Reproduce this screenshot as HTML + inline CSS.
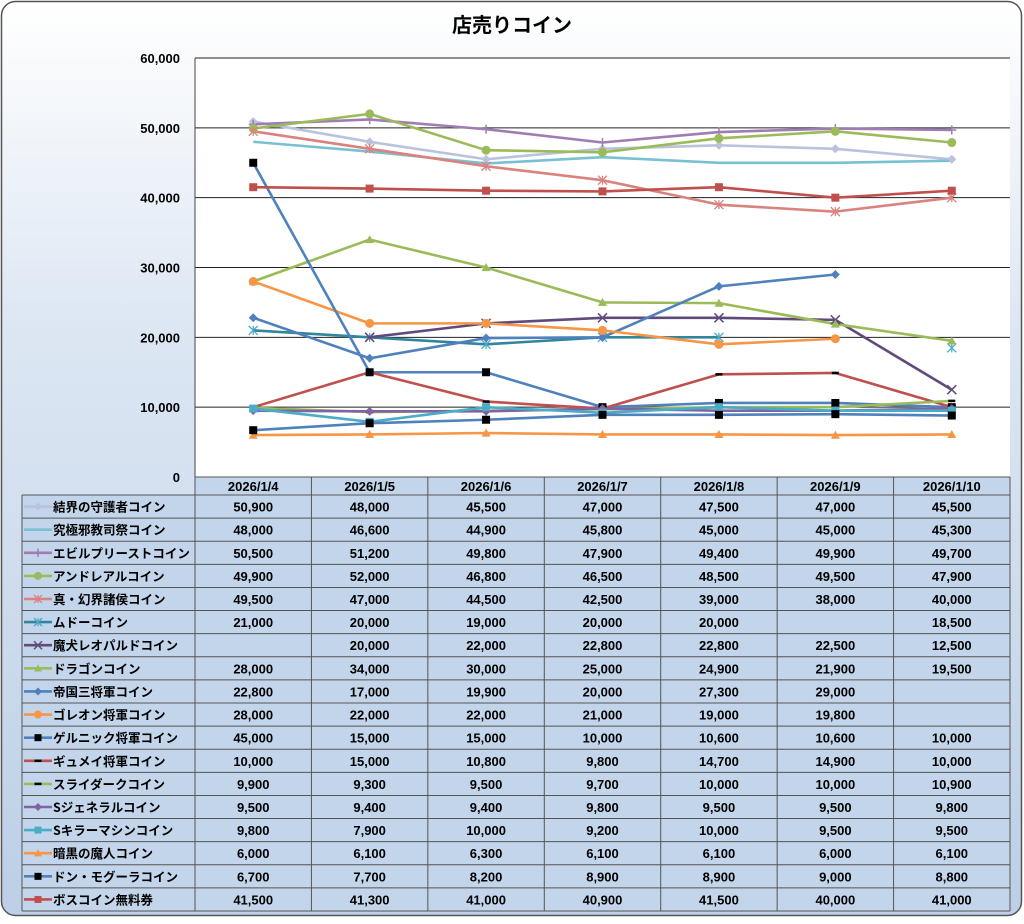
<!DOCTYPE html><html><head><meta charset="utf-8"><style>
body{margin:0;width:1024px;height:919px;overflow:hidden;background:#fff;font-family:"Liberation Sans","Noto Sans CJK JP",sans-serif}
</style></head><body>
<svg id="s" width="1024" height="919" xmlns="http://www.w3.org/2000/svg" font-family="Liberation Sans, Noto Sans CJK JP, sans-serif">
<defs><linearGradient id="bg" x1="0" y1="0" x2="0" y2="1"><stop offset="0" stop-color="#ffffff"/><stop offset="0.35" stop-color="#dde7f3"/><stop offset="1" stop-color="#bccfe6"/></linearGradient></defs>
<rect x="1.5" y="1.5" width="1020" height="914" rx="14" fill="url(#bg)" stroke="#555" stroke-width="1.5"/>
<text x="512" y="32" text-anchor="middle" font-size="20" font-weight="bold" font-family="Noto Sans CJK JP, sans-serif">店売りコイン</text>
<rect x="195" y="58" width="815" height="419" fill="#fff"/>
<g id="g"></g>
</svg>
<script>
const g=document.getElementById('g');let h='';
const X0=195,CW=815/7,Y=v=>477-v*0.006983,cx=i=>X0+CW*(i+0.5);
for(let k=0;k<=6;k++){const y=Y(k*10000);if(k>0)h+=`<line x1="195" y1="${y}" x2="1010" y2="${y}" stroke="#222" stroke-width="1"/>`;
h+=`<text x="180" y="${y+5}" text-anchor="end" font-size="13" font-weight="bold">${(k*10000).toLocaleString('en-US')}</text>`;}
h+=`<line x1="195" y1="58" x2="195" y2="477" stroke="#444"/>`;
const dates=['2026/1/4','2026/1/5','2026/1/6','2026/1/7','2026/1/8','2026/1/9','2026/1/10'];
const S=[
['結界の守護者コイン','#b9c3dd','dia','#b9c3dd',[50900,48000,45500,47000,47500,47000,45500]],
['究極邪教司祭コイン','#7ac0d3','none','',[48000,46600,44900,45800,45000,45000,45300]],
['エビルプリーストコイン','#a07cb4','plus','#a07cb4',[50500,51200,49800,47900,49400,49900,49700]],
['アンドレアルコイン','#9bbb59','circ','#9bbb59',[49900,52000,46800,46500,48500,49500,47900]],
['真・幻界諸侯コイン','#d9827e','ast','#d9827e',[49500,47000,44500,42500,39000,38000,40000]],
['ムドーコイン','#31859c','ast','#4bacc6',[21000,20000,19000,20000,20000,null,18500]],
['魔犬レオパルドコイン','#604a7b','x','#604a7b',[null,20000,22000,22800,22800,22500,12500]],
['ドラゴンコイン','#9bbb59','tri','#9bbb59',[28000,34000,30000,25000,24900,21900,19500]],
['帝国三将軍コイン','#4f81bd','dia','#4f81bd',[22800,17000,19900,20000,27300,29000,null]],
['ゴレオン将軍コイン','#f79646','circ','#f79646',[28000,22000,22000,21000,19000,19800,null]],
['ゲルニック将軍コイン','#4f81bd','sq','#000',[45000,15000,15000,10000,10600,10600,10000]],
['ギュメイ将軍コイン','#c0504d','dash','#000',[10000,15000,10800,9800,14700,14900,10000]],
['スライダークコイン','#9bbb59','dash','#000',[9900,9300,9500,9700,10000,10000,10900]],
['Sジェネラルコイン','#8064a2','dia','#8064a2',[9500,9400,9400,9800,9500,9500,9800]],
['Sキラーマシンコイン','#4bacc6','sq','#4bacc6',[9800,7900,10000,9200,10000,9500,9500]],
['暗黒の魔人コイン','#f79646','tri','#f79646',[6000,6100,6300,6100,6100,6000,6100]],
['ドン・モグーラコイン','#4f81bd','sq','#000',[6700,7700,8200,8900,8900,9000,8800]],
['ボスコイン無料券','#c0504d','sq','#c0504d',[41500,41300,41000,40900,41500,40000,41000]]];
function mk(t,x,y,c,r){r=r||4.5;
if(t=='dia')return `<path d="M${x} ${y-r}L${x+r} ${y}L${x} ${y+r}L${x-r} ${y}Z" fill="${c}"/>`;
if(t=='circ')return `<circle cx="${x}" cy="${y}" r="${r}" fill="${c}"/>`;
if(t=='sq')return `<rect x="${x-r+0.5}" y="${y-r+0.5}" width="${2*r-1}" height="${2*r-1}" fill="${c}"/>`;
if(t=='tri')return `<path d="M${x} ${y-r}L${x+r} ${y+r*0.8}L${x-r} ${y+r*0.8}Z" fill="${c}"/>`;
if(t=='plus')return `<path d="M${x-r} ${y}H${x+r}M${x} ${y-r}V${y+r}" stroke="${c}" stroke-width="1.5"/>`;
if(t=='x')return `<path d="M${x-r} ${y-r}L${x+r} ${y+r}M${x-r} ${y+r}L${x+r} ${y-r}" stroke="${c}" stroke-width="1.5"/>`;
if(t=='ast')return `<path d="M${x-r} ${y-r}L${x+r} ${y+r}M${x-r} ${y+r}L${x+r} ${y-r}M${x} ${y-r}V${y+r}" stroke="${c}" stroke-width="1.3"/>`;
if(t=='dash')return `<path d="M${x-3.5} ${y}H${x+3.5}" stroke="${c}" stroke-width="2.5"/>`;
return '';}
S.forEach(s=>{let d='',pen=false;s[4].forEach((v,i)=>{if(v==null){pen=false;return}d+=(pen?'L':'M')+cx(i)+' '+Y(v);pen=true});
h+=`<path d="${d}" fill="none" stroke="${s[1]}" stroke-width="2.6" stroke-linejoin="round"/>`;});
S.forEach(s=>{s[4].forEach((v,i)=>{if(v!=null)h+=mk(s[2],cx(i),Y(v),s[3])})});
// table
const T0=477,HR=18,RH=(911-495)/18;
h+=`<rect x="195" y="477" width="815" height="434" fill="#c3d5ea"/><rect x="22" y="495" width="173" height="416" fill="#c3d5ea"/>`;
dates.forEach((d,i)=>h+=`<text x="${cx(i)}" y="${T0+14}" text-anchor="middle" font-size="13" font-weight="bold">${d}</text>`);
for(let r=0;r<=18;r++){const y=495+r*RH;h+=`<line x1="22" y1="${y}" x2="1010" y2="${y}" stroke="#555"/>`}
h+=`<line x1="195" y1="477" x2="1010" y2="477" stroke="#555"/>`;
for(let k=0;k<=7;k++){const x=X0+k*CW;h+=`<line x1="${x}" y1="477" x2="${x}" y2="911" stroke="#555"/>`}
h+=`<line x1="22" y1="495" x2="22" y2="911" stroke="#555"/>`;
S.forEach((s,r)=>{const y=495+r*RH+RH/2;
h+=`<line x1="24" y1="${y}" x2="52" y2="${y}" stroke="${s[1]}" stroke-width="2.6"/>`+mk(s[2],38,y,s[3],4);
h+=`<text x="53" y="${y+5}" font-size="12.5" font-weight="bold" font-family="Noto Sans CJK JP, sans-serif">${s[0]}</text>`;
s[4].forEach((v,i)=>{if(v!=null)h+=`<text x="${cx(i)}" y="${y+5}" text-anchor="middle" font-size="13" font-weight="bold">${v.toLocaleString('en-US')}</text>`})});
g.innerHTML=h;
</script></body></html>
